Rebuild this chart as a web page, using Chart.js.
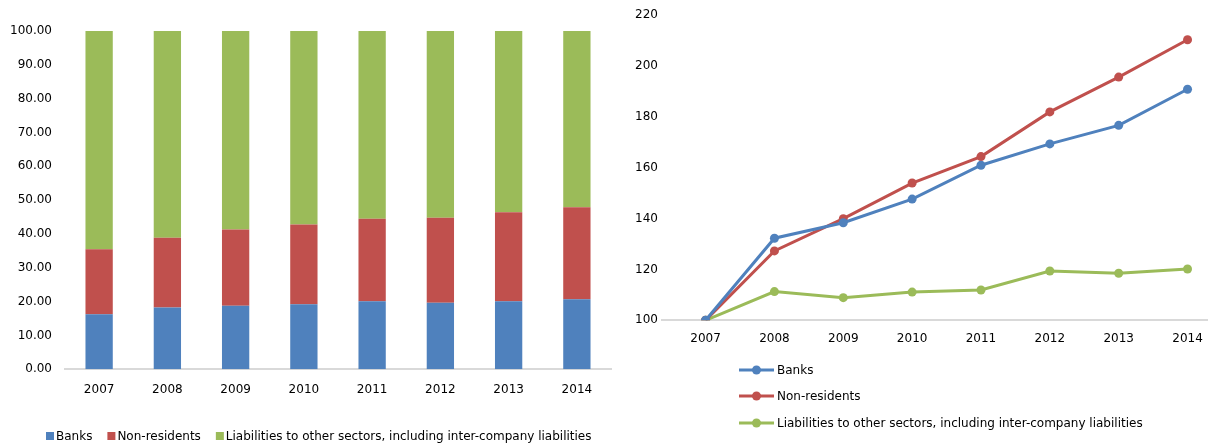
<!DOCTYPE html>
<html>
<head>
<meta charset="utf-8">
<script src="https://cdn.jsdelivr.net/npm/chart.js@4/dist/chart.umd.min.js"></script>
<style>
  html, body { margin: 0; padding: 0; background: #fff; overflow: hidden; }
  #left { position: absolute; left: 0; top: 0; }
  #right { position: absolute; left: 612px; top: 0; }
</style>
</head>
<body>
<canvas id="left" width="612" height="444"></canvas>
<canvas id="right" width="600" height="444"></canvas>
<script>
// ---- data ----
const years = [2007, 2008, 2009, 2010, 2011, 2012, 2013, 2014];
const seriesNames = ['Banks', 'Non-residents', 'Liabilities to other sectors, including inter-company liabilities'];
// Left: structure, % of total
const shareBanks = [16.3, 18.3, 18.8, 19.2, 20.1, 19.7, 20.1, 20.7];
const shareNonRes = [19.2, 20.6, 22.5, 23.6, 24.4, 25.1, 26.3, 27.2];
const shareOther = [64.5, 61.1, 58.7, 57.2, 55.5, 55.2, 53.6, 52.1];
const leftTicks = [0, 10, 20, 30, 40, 50, 60, 70, 80, 90, 100];
// Right: index, 2007 = 100
const idxBanks = [100, 132.3, 138.4, 147.7, 161.0, 169.4, 176.7, 190.9];
const idxNonRes = [100, 127.3, 140.0, 154.0, 164.4, 182.0, 195.7, 210.4];
const idxOther = [100, 111.3, 108.9, 111.1, 111.9, 119.4, 118.5, 120.2];
const rightTicks = [100, 120, 140, 160, 180, 200, 220];

const colors = ['#4F81BD', '#C0504D', '#9BBB59'];
const FONT = 'DejaVu Sans';
const TXT = '#000';
const AXIS = '#d9d9d9';

// ---- left legend plugin (squares, horizontal) ----
const squareLegend = {
  id: 'squareLegend',
  afterDraw(chart) {
    const ctx = chart.ctx;
    ctx.save();
    ctx.font = '12px "' + FONT + '"';
    ctx.textBaseline = 'middle';
    let x = 46;
    const y = 436;
    chart.data.datasets.forEach(ds => {
      ctx.fillStyle = ds.backgroundColor;
      ctx.fillRect(x, y - 4, 8, 8);
      ctx.fillStyle = TXT;
      ctx.fillText(ds.label, x + 10, y + 0.5);
      x += 10 + ctx.measureText(ds.label).width + 15;
    });
    ctx.restore();
  }
};

// ---- right legend plugin (line + marker, vertical) ----
const lineLegend = {
  id: 'lineLegend',
  afterDraw(chart) {
    const ctx = chart.ctx;
    ctx.save();
    ctx.font = '12px "' + FONT + '"';
    ctx.textBaseline = 'middle';
    const x0 = 739 - 612, x1 = 774 - 612;
    const rows = [370, 396, 423];
    chart.data.datasets.forEach((ds, i) => {
      const y = rows[i];
      ctx.strokeStyle = ds.borderColor;
      ctx.lineWidth = 3;
      ctx.beginPath(); ctx.moveTo(x0, y); ctx.lineTo(x1, y); ctx.stroke();
      ctx.fillStyle = ds.borderColor;
      ctx.beginPath(); ctx.arc((x0 + x1) / 2, y, 4.5, 0, Math.PI * 2); ctx.fill();
      ctx.fillStyle = TXT;
      ctx.fillText(ds.label, x1 + 3, y + 0.5);
    });
    ctx.restore();
  }
};

// ---- left: stacked bars ----
new Chart(document.getElementById('left'), {
  type: 'bar',
  data: {
    labels: years.map(String),
    datasets: [
      { label: seriesNames[0], data: shareBanks, backgroundColor: colors[0] },
      { label: seriesNames[1], data: shareNonRes, backgroundColor: colors[1] },
      { label: seriesNames[2], data: shareOther, backgroundColor: colors[2] }
    ]
  },
  options: {
    responsive: false,
    animation: false,
    events: [],
    layout: { padding: { top: 31, bottom: 44.7, left: 0, right: 1 } },
    datasets: { bar: { barPercentage: 0.4, categoryPercentage: 1.0 } },
    plugins: { legend: { display: false }, tooltip: { enabled: false } },
    scales: {
      x: {
        stacked: true,
        grid: { display: false },
        border: { display: true, color: AXIS, width: 2 },
        ticks: { color: TXT, font: { family: FONT, size: 12 }, padding: 5, maxRotation: 0 },
        afterFit(s) { s.height = 30; }
      },
      y: {
        stacked: true,
        min: 0, max: 100,
        grid: { display: false, drawTicks: false },
        border: { display: false },
        afterBuildTicks(s) { s.ticks = leftTicks.map(v => ({ value: v })); },
        ticks: {
          color: TXT, font: { family: FONT, size: 12 }, padding: 13,
          callback: v => Number(v).toFixed(2)
        },
        afterFit(s) { s.width = 65; }
      }
    }
  },
  plugins: [squareLegend]
});

// ---- right: index lines ----
const mk = arr => arr.map((v, i) => ({ x: years[i], y: v }));
new Chart(document.getElementById('right'), {
  type: 'line',
  data: {
    datasets: [
      { label: seriesNames[0], data: mk(idxBanks), borderColor: colors[0], backgroundColor: colors[0] },
      { label: seriesNames[1], data: mk(idxNonRes), borderColor: colors[1], backgroundColor: colors[1] },
      { label: seriesNames[2], data: mk(idxOther), borderColor: colors[2], backgroundColor: colors[2] }
    ]
  },
  options: {
    responsive: false,
    animation: false,
    events: [],
    layout: { padding: { top: 15.3, bottom: 93.7, left: 0, right: 0 } },
    elements: {
      line: { borderWidth: 3, tension: 0 },
      point: { radius: 4.5, borderWidth: 0, hoverRadius: 4.5 }
    },
    plugins: { legend: { display: false }, tooltip: { enabled: false } },
    scales: {
      x: {
        type: 'linear',
        min: 2006.367, max: 2014.29,
        grid: { display: false },
        border: { display: true, color: AXIS, width: 2 },
        afterBuildTicks(s) { s.ticks = years.map(v => ({ value: v })); },
        ticks: { color: TXT, font: { family: FONT, size: 12 }, padding: 3, maxRotation: 0, callback: v => String(v) },
        afterFit(s) { s.height = 30; }
      },
      y: {
        min: 100, max: 220,
        grid: { display: false, drawTicks: false },
        border: { display: false },
        afterBuildTicks(s) { s.ticks = rightTicks.map(v => ({ value: v })); },
        ticks: { color: TXT, font: { family: FONT, size: 12 }, padding: 4 },
        afterFit(s) { s.width = 50; }
      }
    }
  },
  plugins: [lineLegend]
});
</script>
</body>
</html>
